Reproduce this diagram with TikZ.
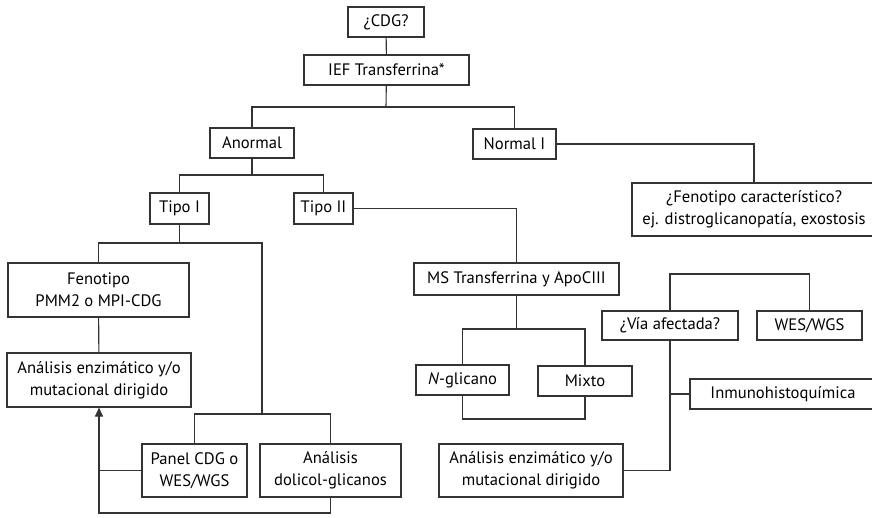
\documentclass[tikz,border=0pt]{standalone}
\usepackage{fontspec}
\setmainfont{PT Sans}
\usetikzlibrary{arrows.meta}
\definecolor{linegray}{HTML}{333333}
\tikzset{
	box/.style={draw=linegray, line width=1.1pt, inner sep=0pt, align=center, text=black,
		font=\fontsize{16.6}{22}\selectfont},
	wire/.style={draw=linegray, line width=1.1pt},
}

\begin{document}
\begin{tikzpicture}[x=1pt, y=-1pt]
	\useasboundingbox (0,0) rectangle (872,517);

	% top of the tree
	\node[box, minimum width=76pt, minimum height=30pt] (cdg) at (386,22) {¿CDG?};
	\node[box, minimum width=165pt, minimum height=30pt] (ief) at (386.5,70) {IEF Transferrina*};
	\node[box, minimum width=84pt, minimum height=30pt] (anormal) at (252,143) {Anormal};
	\node[box, minimum width=83pt, minimum height=30pt] (normal) at (514.5,144) {Normal I};
	\node[box, minimum width=244pt, minimum height=53pt] (fenochar) at (754,209.5) {¿Fenotipo característico?\\ej. distroglicanopatía, exostosis};

	% tipo I
	\node[box, minimum width=59pt, minimum height=31pt] (tipoI) at (179.5,208.5) {Tipo I};
	\node[box, minimum width=181pt, minimum height=54pt] (fenotipo) at (98.5,290) {Fenotipo\\PMM2 o MPI-CDG};
	\node[box, minimum width=184pt, minimum height=54pt] (enzL) at (99,380) {Análisis enzimático y/o\\mutacional dirigido};
	\node[box, minimum width=105pt, minimum height=53pt] (panel) at (194.5,470.5) {Panel CDG o\\WES/WGS};
	\node[box, minimum width=141pt, minimum height=53pt] (dolicol) at (330.5,470.5) {Análisis\\dolicol-glicanos};

	% tipo II
	\node[box, minimum width=59pt, minimum height=31pt] (tipoII) at (323.5,208.5) {Tipo II};
	\node[box, minimum width=205pt, minimum height=32pt] (ms) at (516.5,279) {MS Transferrina y ApoCIII};
	\node[box, minimum width=93pt, minimum height=30pt] (nglic) at (462.5,380) {\textit{N}-glicano};
	\node[box, minimum width=94pt, minimum height=30pt] (mixto) at (585,381) {Mixto};
	\node[box, minimum width=136pt, minimum height=29pt] (via) at (670,325.5) {¿Vía afectada?};
	\node[box, minimum width=105pt, minimum height=29pt] (wes) at (809.5,325.5) {WES/WGS};
	\node[box, minimum width=186pt, minimum height=30pt] (inmuno) at (783,394) {Inmunohistoquímica};
	\node[box, minimum width=184pt, minimum height=53pt] (enzR) at (531,470.5) {Análisis enzimático y/o\\mutacional dirigido};

	% junctions
	\coordinate (j1) at (386,107);
	\coordinate (j2) at (252,175);
	\coordinate (j3) at (179.5,243);
	\coordinate (j4) at (262,414);
	\coordinate (j5) at (516.5,329);
	\coordinate (j6) at (524,419);
	\coordinate (j7) at (740,274);
	\coordinate (b1) at (99,513);

	\draw[wire] (cdg) -- (ief);
	\draw[wire] (ief) -- (j1);
	\draw[wire] (anormal.north) |- (j1) -| (normal.north);
	\draw[wire] (normal.east) -| (fenochar.north);
	\draw[wire] (anormal) -- (j2);
	\draw[wire] (tipoI.north) |- (j2) -| (tipoII.north);
	\draw[wire] (tipoII.east) -| (ms.north);

	\draw[wire] (tipoI) -- (j3);
	\draw[wire] (fenotipo.north) |- (j3) -| (j4);
	\draw[wire] (panel.north) |- (j4) -| (dolicol.north);
	\draw[wire] (fenotipo) -- (enzL);
	\draw[wire, -{Triangle[length=9pt,width=8pt]}] (dolicol.south) |- (b1) -- (enzL.south);
	\draw[wire] (panel.west) -- (enzL.south |- panel.west);

	\draw[wire] (ms) -- (j5);
	\draw[wire] (nglic.north) |- (j5) -| (mixto.north);
	\draw[wire] (nglic.south) |- (j6) -| (mixto.south);
	\draw[wire] (via.north) |- (j7) -| (wes.north);
	\draw[wire] (via.south) |- (enzR.east);
	\draw[wire] (inmuno.west) -- (via.south |- inmuno.west);
\end{tikzpicture}
\end{document}
